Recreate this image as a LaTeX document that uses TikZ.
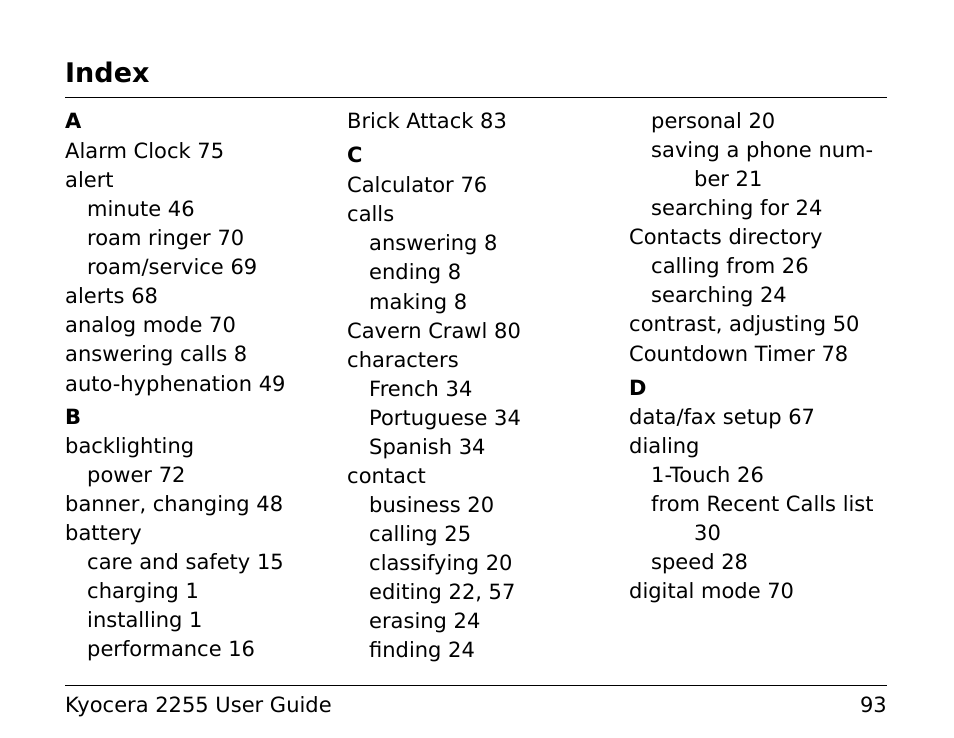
\documentclass[tikz,border=0pt]{standalone}
\usepackage{fontspec}
\setmainfont{DejaVu Sans}
\begin{document}
\begin{tikzpicture}[x=1pt,y=1pt,t/.style={anchor=base west,inner sep=0pt,font=\fontsize{21}{24}\selectfont},h/.style={t,font=\fontsize{21}{24}\selectfont\bfseries}]
\useasboundingbox (0,0) rectangle (954,-738);
\node[anchor=base west,inner sep=0pt,font=\fontsize{27}{30}\selectfont\bfseries] (title) at (65,-83) {Index};
\draw[line width=0.8pt] (65,-97) coordinate (r1) -- (887,-97) coordinate (r2);
\draw[line width=0.8pt] (65,-685) coordinate (f1) -- (887,-685) coordinate (f2);
\node[t] (foot) at (65,-712) {Kyocera 2255 User Guide};
\node[t,anchor=base east] (pg) at (887,-712) {93};
% column 1
\node[h] (a) at (65,-129) {A};
\foreach \y/\x/\s [count=\i] in {159/65/{Alarm Clock 75},188/65/alert,217/87/{minute 46},246/87/{roam ringer 70},275/87/{roam/service 69},304/65/{alerts 68},333/65/{analog mode 70},362/65/{answering calls 8},391/65/{auto-hyphenation 49},453/65/backlighting,482/87/{power 72},511/65/{banner, changing 48},540/65/battery,569/87/{care and safety 15},598/87/{charging 1},627/87/{installing 1},656/87/{performance 16}}
  \node[t] (c1-\i) at (\x,-\y) {\s};
\node[h] (b) at (65,-424) {B};
% column 2
\node[h] (c) at (347,-163) {C};
\foreach \y/\x/\s [count=\i] in {129/347/{Brick Attack 83},193/347/{Calculator 76},222/347/calls,251/369/{answering 8},280/369/{ending 8},309/369/{making 8},338/347/{Cavern Crawl 80},367/347/characters,396/369/{French 34},425/369/{Portuguese 34},454/369/{Spanish 34},483/347/contact,512/369/{business 20},541/369/{calling 25},570/369/{classifying 20},599/369/{editing 22, 57},628/369/{erasing 24},657/369/{finding 24}}
  \node[t] (c2-\i) at (\x,-\y) {\s};
% column 3
\node[h] (d) at (629,-395) {D};
\foreach \y/\x/\s [count=\i] in {129/651/{personal 20},158/651/{saving a phone num-},187/694/{ber 21},216/651/{searching for 24},245/629/{Contacts directory},274/651/{calling from 26},303/651/{searching 24},332/629/{contrast, adjusting 50},361/629/{Countdown Timer 78},424/629/{data/fax setup 67},453/629/dialing,482/651/{1-Touch 26},511/651/{from Recent Calls list},540/694/30,569/651/{speed 28},598/629/{digital mode 70}}
  \node[t] (c3-\i) at (\x,-\y) {\s};
\end{tikzpicture}
\end{document}
